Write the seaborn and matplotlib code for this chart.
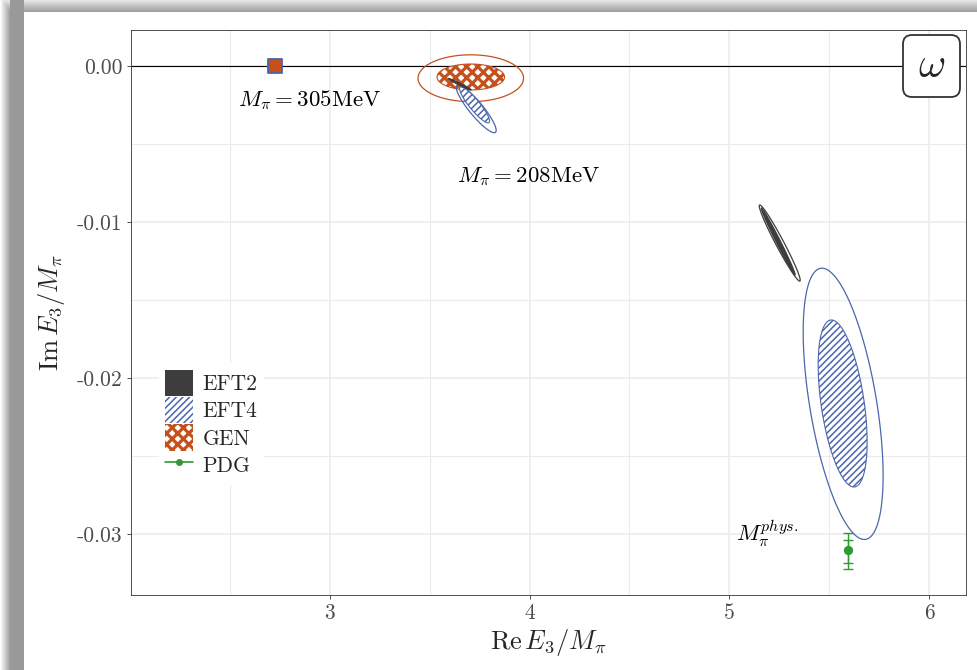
import numpy as np
import pandas as pd
import matplotlib
matplotlib.use("Agg")
import matplotlib.pyplot as plt
import seaborn as sns
from matplotlib.patches import Patch, FancyBboxPatch
from matplotlib.lines import Line2D
from matplotlib.transforms import IdentityTransform

# ---------------- data ----------------
# uncertainty ellipses: centre, half-widths and correlation (Re vs Im)
ell_model = ["GEN", "GEN", "EFT4", "EFT4", "EFT2", "EFT4", "EFT4", "EFT2", "EFT2"]
ell_kind = ["outer", "inner", "outer", "inner", "inner", "outer", "inner", "outer", "inner"]
ell_re = [3.706, 3.706, 3.733, 3.725, 3.650, 5.570, 5.5675, 5.2525, 5.245]
ell_im = [-0.00079, -0.00071, -0.00275, -0.00250, -0.00117, -0.02165, -0.02163, -0.01135, -0.01125]
ell_sre = [0.264, 0.169, 0.100, 0.075, 0.058, 0.200, 0.1225, 0.1025, 0.085]
ell_sim = [0.00150, 0.00083, 0.00153, 0.00115, 0.00037, 0.00869, 0.00535, 0.00244, 0.00215]
ell_rho = [0.0, 0.0, -0.90, -0.90, -0.98, -0.53, -0.46, -0.975, -0.99]

# M_pi = 305 MeV point
pt305_re = [2.7235]
pt305_im = [0.0]

# PDG point with errors
pdg_re = [5.5965]
pdg_im = [-0.031026]
pdg_err_outer = [(-0.032244, -0.029936)]
pdg_err_inner = [(-0.031859, -0.030385)]

x_ticks = [3, 4, 5, 6]
x_tick_labels = ["3", "4", "5", "6"]
y_ticks = [-0.03, -0.02, -0.01, 0.0]
y_tick_labels = ["-0.03", "-0.02", "-0.01", "0.00"]

annotations = [r"$M_\pi = 305\mathrm{MeV}$", r"$M_\pi = 208\mathrm{MeV}$", r"$M_\pi^{phys.}$"]
annot_re = [2.90, 3.995, 5.19]
annot_im = [-0.00218, -0.0071, -0.0300]

legend_labels = ["EFT2", "EFT4", "GEN", "PDG"]

# ---------------- style ----------------
COL = {"EFT2": "#3d3d3d", "EFT4": "#4a66ad", "GEN": "#c5501c", "PDG": "#2f9a2f"}
HATCH = {"EFT4": "/////", "GEN": "xxx"}
HLW = {"EFT4": 1.1, "GEN": 2.3}

sns.set_theme(style="whitegrid")
plt.rcParams["font.family"] = ["cmr10", "DejaVu Serif"]
plt.rcParams["mathtext.fontset"] = "cm"
plt.rcParams["axes.unicode_minus"] = False

W, H = 978, 670
fig = plt.figure(figsize=(W / 100, H / 100), dpi=100, facecolor="white")

# page shadow background
bg = fig.add_axes([0, 0, 1, 1], zorder=-10)
yy, xx = np.mgrid[0:H, 0:W].astype(float)
left = np.where(xx < 10, 1 - 0.40 * (xx / 10.0), 0.60)
top = 0.9 - 0.3 * (yy / 12.0)
img = np.ones((H, W))
img = np.where(xx < 24, left, img)
img = np.where((yy < 12) & (xx >= 10), np.minimum(img, top), img)
img = np.where((yy < 12) & (xx < 10), np.maximum(left, top), img)
bg.imshow(img, cmap="gray", vmin=0, vmax=1, extent=[0, 1, 0, 1], aspect="auto",
          interpolation="bilinear")
bg.set_axis_off()

ax = fig.add_axes([131 / W, 1 - 595 / H, (966 - 131) / W, (595 - 30) / H])
ax.set_facecolor("white")
ax.set_xlim(2.005, 6.185)
ax.set_ylim(-0.0339, 0.0023)

# grid
ax.set_xticks(x_ticks)
ax.set_xticklabels(x_tick_labels)
ax.set_yticks(y_ticks)
ax.set_yticklabels(y_tick_labels)
ax.set_xticks([2.5, 3.5, 4.5, 5.5], minor=True)
ax.set_yticks([-0.025, -0.015, -0.005], minor=True)
ax.grid(True, which="major", color="#ebebeb", linewidth=1.1)
ax.grid(True, which="minor", color="#ebebeb", linewidth=0.8)
ax.set_axisbelow(True)
for s in ax.spines.values():
    s.set_color("#333333")
    s.set_linewidth(0.6)
ax.tick_params(axis="both", which="major", length=3, width=0.6, color="#333333",
               labelsize=15.5, labelcolor="#4d4d4d", pad=3)
ax.tick_params(axis="both", which="minor", length=0)
ax.tick_params(axis="both", which="both", bottom=True, left=True)

# zero line
ax.axhline(0.0, color="black", linewidth=0.8, zorder=1)

# ellipses
t = np.linspace(0, 2 * np.pi, 300)
df = pd.DataFrame(dict(model=ell_model, kind=ell_kind, re=ell_re, im=ell_im,
                       sre=ell_sre, sim=ell_sim, rho=ell_rho))
for _, r in df.iterrows():
    phi = np.arccos(r["rho"])
    ex = r["re"] + r["sre"] * np.cos(t)
    ey = r["im"] + r["sim"] * np.cos(t + phi)
    c = COL[r["model"]]
    if r["kind"] == "outer":
        ax.fill(ex, ey, facecolor="none", edgecolor=c, linewidth=0.9, zorder=3)
    else:
        if r["model"] == "EFT2":
            ax.fill(ex, ey, facecolor=c, edgecolor=c, linewidth=0.8, zorder=4)
        else:
            with plt.rc_context({"hatch.linewidth": HLW[r["model"]]}):
                polys = ax.fill(ex, ey, facecolor="white", edgecolor=c,
                                hatch=HATCH[r["model"]], linewidth=0.8, zorder=3)
            for p in polys:
                if hasattr(p, "set_hatch_linewidth"):
                    p.set_hatch_linewidth(HLW[r["model"]])

# 305 MeV point
sns.scatterplot(x=pt305_re, y=pt305_im, marker="s", s=95, color=COL["GEN"],
                edgecolor=COL["EFT4"], linewidth=1.3, ax=ax, zorder=5)

# PDG point
for lo, hi in pdg_err_outer + pdg_err_inner:
    ax.errorbar(pdg_re, pdg_im, yerr=[[pdg_im[0] - lo], [hi - pdg_im[0]]], fmt="none",
                ecolor=COL["PDG"], elinewidth=1.0, capsize=3.6, capthick=1.0, zorder=5)
sns.scatterplot(x=pdg_re, y=pdg_im, color=COL["PDG"], s=45, linewidth=0, ax=ax, zorder=6)

# annotations
for txt, xr, yi in zip(annotations, annot_re, annot_im):
    ax.text(xr, yi, txt, fontsize=16.5, ha="center", va="center", color="black", zorder=7)

ax.set_xlabel(r"$\mathrm{Re}\,E_3/M_\pi$", fontsize=19, labelpad=3)
ax.set_ylabel(r"$\mathrm{Im}\,E_3/M_\pi$", fontsize=19, labelpad=7)

# legend
handles = [
    Patch(facecolor=COL["EFT2"], edgecolor="none"),
    Patch(facecolor="white", edgecolor=COL["EFT4"], hatch=HATCH["EFT4"], linewidth=0),
    Patch(facecolor="white", edgecolor=COL["GEN"], hatch=HATCH["GEN"], linewidth=0),
    Line2D([0], [0], color=COL["PDG"], marker="o", markersize=4, linewidth=1.2),
]
leg = ax.legend(handles, legend_labels, loc="upper left", bbox_to_anchor=(0.033, 0.41),
                fontsize=15.5, frameon=True, framealpha=1, facecolor="white", edgecolor="none",
                handlelength=1.3, handleheight=1.5, labelspacing=0.05, handletextpad=0.45,
                borderpad=0.3, borderaxespad=0, fancybox=False)
for p, key in zip(leg.get_patches(), ["EFT2", "EFT4", "GEN"]):
    if key in HLW and hasattr(p, "set_hatch_linewidth"):
        p.set_hatch_linewidth(HLW[key])

# omega label box
box = FancyBboxPatch((903, H - 97), 57, 62, boxstyle="round,pad=0,rounding_size=9",
                     transform=IdentityTransform(), facecolor="white", edgecolor="#333333",
                     linewidth=1.3, zorder=10)
fig.add_artist(box)
fig.text(931.5 / W, 1 - 66 / H, r"$\omega$", fontsize=30, ha="center", va="center", zorder=11)

fig.savefig("out.png", dpi=100)
